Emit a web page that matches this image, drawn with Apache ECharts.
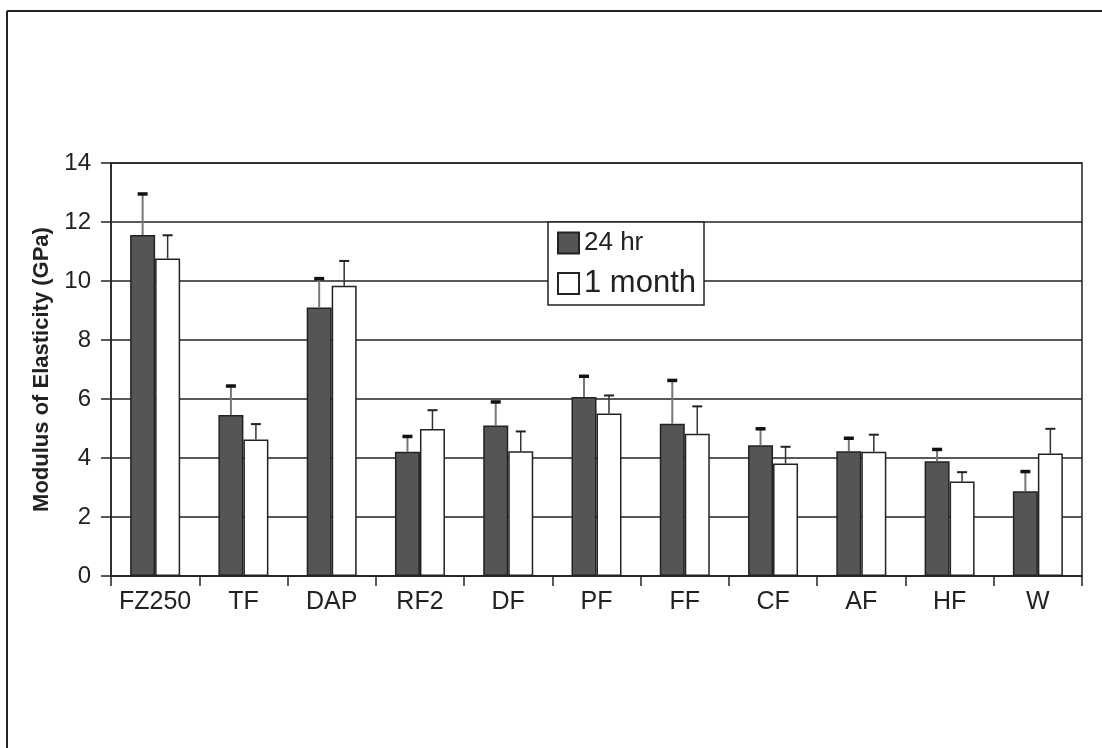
<!DOCTYPE html>
<html>
<head>
<meta charset="utf-8">
<script src="https://cdn.jsdelivr.net/npm/echarts@6/dist/echarts.min.js"></script>
<style>
html,body{margin:0;padding:0;background:#fff;}
#main{width:1102px;height:748px;}
</style>
</head>
<body>
<div id="main"></div>
<script>
var categories=['FZ250','TF','DAP','RF2','DF','PF','FF','CF','AF','HF','W'];
var hr24=[11.56,5.46,9.1,4.21,5.1,6.07,5.16,4.43,4.23,3.89,2.87];
var hr24Err=[1.39,0.98,0.98,0.52,0.8,0.7,1.47,0.56,0.44,0.4,0.67];
var month1=[10.76,4.63,9.84,4.98,4.23,5.51,4.82,3.81,4.21,3.2,4.15];
var month1Err=[0.79,0.52,0.84,0.64,0.67,0.61,0.93,0.57,0.58,0.32,0.84];
var yTicks=[0,2,4,6,8,10,12,14];

var barW=25;
var fontName='"Liberation Sans", Arial, sans-serif';

function errData(vals,errs){
    var out=[];
    for(var i=0;i<vals.length;i++){
        out.push([i,vals[i],errs[i]]);
    }
    return out;
}

// upward error bar with a cap, shifted onto its own bar
function makeErr(shift,whiskerColor,whiskerW,capColor,capW){
    return function(params,api){
        var base=api.coord([api.value(0),api.value(1)]);
        var top=api.coord([api.value(0),api.value(1)+api.value(2)]);
        var x=base[0]+shift;
        return {
            type:'group',
            children:[
                {type:'line',shape:{x1:x,y1:base[1],x2:x,y2:top[1]},style:{stroke:whiskerColor,lineWidth:whiskerW}},
                {type:'line',shape:{x1:x-5,y1:top[1],x2:x+5,y2:top[1]},style:{stroke:capColor,lineWidth:capW}}
            ]
        };
    };
}

var myChart=echarts.init(document.getElementById('main'));
var option={
    animation:false,
    backgroundColor:'#fff',
    grid:{left:111,right:20,top:163,bottom:172,show:true,borderColor:'#222',borderWidth:1.5,backgroundColor:'transparent'},
    legend:{
        orient:'vertical',
        left:548,
        top:222,
        padding:[8,8,6,9],
        itemGap:12,
        itemWidth:21,
        itemHeight:21,
        icon:'rect',
        backgroundColor:'#fff',
        borderColor:'#222',
        borderWidth:1.5,
        borderRadius:0,
        data:['24 hr','1 month'],
        formatter:function(name){
            return name=='24 hr' ? '{a|'+name+'}' : '{b|'+name+'}';
        },
        textStyle:{
            fontFamily:fontName,
            color:'#222',
            rich:{
                a:{fontSize:26,fontFamily:fontName,color:'#222',lineHeight:30},
                b:{fontSize:31,fontFamily:fontName,color:'#222',lineHeight:32}
            }
        }
    },
    xAxis:{
        type:'category',
        data:categories,
        axisLine:{lineStyle:{color:'#222',width:1.5}},
        axisTick:{show:true,length:10,lineStyle:{color:'#222',width:1.5}},
        axisLabel:{interval:0,fontFamily:fontName,fontSize:25,color:'#222',margin:14},
        splitLine:{show:false}
    },
    yAxis:{
        type:'value',
        min:yTicks[0],
        max:yTicks[yTicks.length-1],
        interval:2,
        name:'Modulus of Elasticity (GPa)',
        nameLocation:'middle',
        nameGap:57,
        nameTextStyle:{fontFamily:fontName,fontSize:22,fontWeight:'bold',color:'#222'},
        axisLine:{show:true,lineStyle:{color:'#222',width:1.5}},
        axisTick:{show:true,length:10,lineStyle:{color:'#222',width:1.5}},
        axisLabel:{fontFamily:fontName,fontSize:24,color:'#222',margin:20},
        splitLine:{show:true,lineStyle:{color:'#222',width:1.5}}
    },
    series:[
        {
            name:'24 hr',
            type:'bar',
            data:hr24,
            barWidth:barW,
            barGap:'0%',
            itemStyle:{color:'#555555',borderColor:'#222',borderWidth:1.5}
        },
        {
            name:'1 month',
            type:'bar',
            data:month1,
            barWidth:barW,
            itemStyle:{color:'#ffffff',borderColor:'#222',borderWidth:1.5}
        },
        {
            type:'custom',
            data:errData(hr24,hr24Err),
            renderItem:makeErr(-barW/2,'#777',2,'#111',3.5),
            z:5
        },
        {
            type:'custom',
            data:errData(month1,month1Err),
            renderItem:makeErr(barW/2,'#333',1.5,'#222',2),
            z:5
        }
    ],
    graphic:[
        {type:'line',shape:{x1:7,y1:11,x2:1102,y2:11},style:{stroke:'#222',lineWidth:2}},
        {type:'line',shape:{x1:7,y1:11,x2:7,y2:748},style:{stroke:'#222',lineWidth:2}}
    ]
};
myChart.setOption(option);
</script>
</body>
</html>
